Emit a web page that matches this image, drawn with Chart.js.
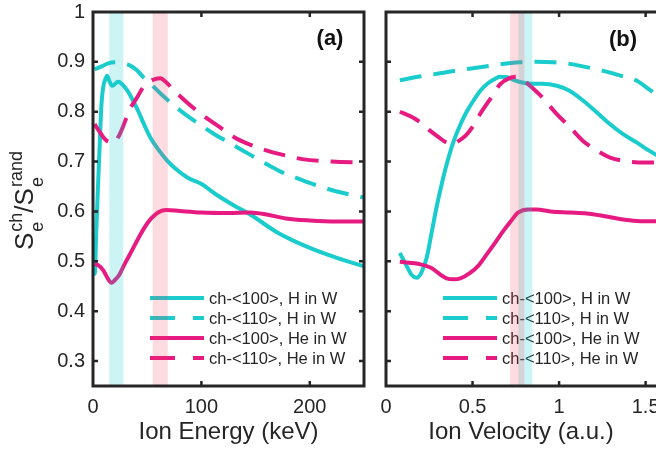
<!DOCTYPE html>
<html>
<head>
<meta charset="utf-8">
<script src="https://cdn.jsdelivr.net/npm/chart.js@4.4.1/dist/chart.umd.min.js"></script>
<style>
html, body { margin: 0; padding: 0; background: #fff; }
#wrap { position: relative; width: 656px; height: 451px; overflow: hidden; }
#wrap canvas { position: absolute; top: 0; }
#cA { left: 0; }
#cB { left: 375px; }
</style>
</head>
<body>
<div id="wrap">
  <canvas id="cA" width="375" height="451" style="width:375px;height:451px"></canvas>
  <canvas id="cB" width="281" height="451" style="width:281px;height:451px"></canvas>
</div>
<script>
//----------------------------//
//--|data: panel (a) energy|--//
//----------------------------//
const energyH100 = [0.8, 1.6, 3, 4.7, 6.3, 7.8, 9.5, 11.5, 13, 15, 17.5, 20, 23, 25.5, 29, 33, 37, 42, 47, 53, 60, 68, 76, 87, 100, 115, 130, 145, 170, 200, 225, 250];
const ratioH100a = [0.5, 0.475, 0.56, 0.655, 0.74, 0.815, 0.85, 0.866, 0.872, 0.862, 0.852, 0.855, 0.86, 0.858, 0.85, 0.838, 0.822, 0.8, 0.775, 0.748, 0.725, 0.703, 0.686, 0.668, 0.655, 0.632, 0.612, 0.594, 0.558, 0.527, 0.507, 0.49];

const energyH110 = [1.5, 8, 14, 20, 27, 34, 40, 47, 55, 63, 75, 88, 100, 112, 128, 144, 160, 172, 188, 203, 225, 250];
const ratioH110a = [0.885, 0.891, 0.897, 0.899, 0.897, 0.893, 0.884, 0.868, 0.852, 0.835, 0.812, 0.79, 0.772, 0.755, 0.735, 0.715, 0.695, 0.681, 0.667, 0.655, 0.64, 0.628];

const energyHe100 = [1.5, 5, 9.5, 13, 17, 20, 24, 27, 30, 36, 44, 51, 57, 63, 68, 80, 100, 125, 145, 160, 178, 200, 225, 250];
const ratioHe100a = [0.495, 0.492, 0.482, 0.468, 0.457, 0.462, 0.472, 0.485, 0.498, 0.522, 0.555, 0.579, 0.593, 0.601, 0.603, 0.601, 0.598, 0.597, 0.598, 0.594, 0.586, 0.582, 0.58, 0.58];

const energyHe110 = [1.5, 6, 11, 15, 19, 24, 28, 34, 40.5, 46, 52, 58, 62, 67, 75, 87, 100, 115, 131, 146, 162, 178, 193, 220, 250];
const ratioHe110a = [0.775, 0.76, 0.745, 0.739, 0.738, 0.752, 0.772, 0.805, 0.828, 0.848, 0.86, 0.866, 0.867, 0.86, 0.842, 0.818, 0.795, 0.772, 0.748, 0.733, 0.721, 0.712, 0.705, 0.7, 0.698];

//------------------------------//
//--|data: panel (b) velocity|--//
//------------------------------//
const velH100 = [0.08, 0.12, 0.15, 0.177, 0.205, 0.235, 0.265, 0.293, 0.322, 0.351, 0.39, 0.428, 0.466, 0.505, 0.545, 0.582, 0.62, 0.659, 0.7, 0.736, 0.78, 0.84, 0.9, 0.987, 1.06, 1.14, 1.22, 1.295, 1.37, 1.45, 1.52, 1.6];
const ratioH100b = [0.517, 0.49, 0.472, 0.467, 0.478, 0.507, 0.56, 0.61, 0.655, 0.695, 0.74, 0.773, 0.8, 0.822, 0.842, 0.855, 0.864, 0.87, 0.869, 0.864, 0.859, 0.856, 0.856, 0.852, 0.842, 0.822, 0.798, 0.775, 0.755, 0.738, 0.722, 0.706];

const velH110 = [0.08, 0.2, 0.312, 0.43, 0.543, 0.66, 0.775, 0.87, 0.967, 1.06, 1.15, 1.256, 1.35, 1.449, 1.52, 1.6];
const ratioH110b = [0.863, 0.871, 0.877, 0.884, 0.889, 0.895, 0.899, 0.9, 0.899, 0.896, 0.89, 0.882, 0.873, 0.862, 0.845, 0.825];

const velHe100 = [0.08, 0.2, 0.26, 0.312, 0.35, 0.389, 0.43, 0.486, 0.53, 0.582, 0.63, 0.678, 0.72, 0.765, 0.82, 0.87, 0.95, 1.064, 1.16, 1.256, 1.35, 1.45, 1.6];
const ratioHe100b = [0.499, 0.494, 0.487, 0.474, 0.466, 0.464, 0.466, 0.477, 0.49, 0.514, 0.537, 0.561, 0.58, 0.598, 0.604, 0.604, 0.6, 0.598, 0.596, 0.591, 0.585, 0.581, 0.58];

const velHe110 = [0.08, 0.158, 0.2, 0.254, 0.3, 0.35, 0.389, 0.418, 0.46, 0.495, 0.543, 0.611, 0.659, 0.71, 0.755, 0.8, 0.832, 0.9, 0.987, 1.06, 1.14, 1.22, 1.295, 1.4, 1.5, 1.6];
const ratioHe110b = [0.8, 0.788, 0.778, 0.762, 0.75, 0.738, 0.735, 0.741, 0.752, 0.767, 0.795, 0.83, 0.855, 0.867, 0.87, 0.862, 0.852, 0.83, 0.795, 0.77, 0.741, 0.722, 0.708, 0.7, 0.698, 0.698];

//------------------------//
//--|ticks and labels|--//
//------------------------//
const seriesLabels = ["ch-<100>, H in W", "ch-<110>, H in W", "ch-<100>, He in W", "ch-<110>, He in W"];
const yTicks = [0.3, 0.4, 0.5, 0.6, 0.7, 0.8, 0.9, 1];
const xTicksA = [0, 100, 200];
const xTicksB = [0, 0.5, 1, 1.5];
const bandA_H = [15, 28];
const bandA_He = [55, 69];
const bandB_He = [0.717, 0.8];
const bandB_H = [0.765, 0.845];

const CYAN = "rgb(26,204,204)";
const MAGENTA = "rgb(230,26,128)";
const CYAN_BAND = "rgba(26,204,204,0.22)";
const PINK_BAND = "rgba(245,60,90,0.18)";
const INK = "#262626";
const FONT = "'Liberation Sans', Arial, Helvetica, sans-serif";

const pts = (xs, ys) => xs.map((x, i) => ({ x: x, y: ys[i] }));

function drawYLabel(ctx) {
    ctx.save();
    ctx.translate(33, 250);
    ctx.rotate(-Math.PI / 2);
    ctx.fillStyle = INK;
    ctx.textAlign = "left";
    ctx.textBaseline = "alphabetic";
    const big = "26px " + FONT;
    const small = "18px " + FONT;
    let cx = 0;
    const part = (main, sub, sup) => {
        ctx.font = big;
        ctx.fillText(main, cx, 0);
        cx += ctx.measureText(main).width;
        if (sub || sup) {
            ctx.font = small;
            ctx.fillText(sub, cx + 1, 10);
            ctx.fillText(sup, cx + 1, -11);
            cx += 1 + Math.max(ctx.measureText(sub).width, ctx.measureText(sup).width);
        }
    };
    part("S", "e", "ch");
    part("/", "", "");
    part("S", "e", "rand");
    ctx.restore();
}

//--------------------------------------//
//--|legend, bands, frame, inner ticks|--//
//--------------------------------------//
const panelDecor = {
    id: "panelDecor",
    afterDatasetsDraw(chart, args, opts) {
        const ctx = chart.ctx;
        const a = chart.chartArea;
        const x = chart.scales.x;
        const y = chart.scales.y;
        ctx.save();

        // legend
        chart.data.datasets.forEach((ds, i) => {
            const ly = opts.legendY + i * 20;
            ctx.beginPath();
            ctx.setLineDash(ds.borderDash.length ? [25, 18] : []);
            ctx.lineWidth = 4;
            ctx.lineCap = "butt";
            ctx.strokeStyle = ds.borderColor;
            ctx.moveTo(opts.legendX, ly);
            ctx.lineTo(opts.legendX + 54, ly);
            ctx.stroke();
            ctx.setLineDash([]);
            ctx.fillStyle = INK;
            ctx.font = "16.5px " + FONT;
            ctx.textAlign = "left";
            ctx.textBaseline = "middle";
            ctx.fillText(ds.label, opts.legendX + 59, ly + 1);
        });

        // shaded bands (on top of the curves)
        opts.bands.forEach(b => {
            const x0 = x.getPixelForValue(b.range[0]);
            const x1 = x.getPixelForValue(b.range[1]);
            ctx.fillStyle = b.color;
            ctx.fillRect(x0, a.top, x1 - x0, a.bottom - a.top);
        });

        // frame
        ctx.strokeStyle = INK;
        ctx.lineWidth = 3;
        ctx.beginPath();
        if (opts.rightSide) {
            ctx.rect(a.left, a.top, a.right - a.left, a.bottom - a.top);
        } else {
            ctx.moveTo(a.right + 2, a.top);
            ctx.lineTo(a.left, a.top);
            ctx.lineTo(a.left, a.bottom);
            ctx.lineTo(a.right + 2, a.bottom);
        }
        ctx.stroke();

        // inward ticks
        ctx.lineWidth = 2.5;
        ctx.beginPath();
        x.ticks.forEach(t => {
            const px = x.getPixelForValue(t.value);
            if (px < a.left + 3 || px > a.right - 3) return;
            ctx.moveTo(px, a.bottom); ctx.lineTo(px, a.bottom - 5);
            ctx.moveTo(px, a.top); ctx.lineTo(px, a.top + 5);
        });
        y.ticks.forEach(t => {
            const py = y.getPixelForValue(t.value);
            if (py < a.top + 3 || py > a.bottom - 3) return;
            ctx.moveTo(a.left, py); ctx.lineTo(a.left + 5, py);
            if (opts.rightSide) { ctx.moveTo(a.right, py); ctx.lineTo(a.right - 5, py); }
        });
        ctx.stroke();

        // panel tag
        ctx.fillStyle = "#111";
        ctx.font = "bold 22px " + FONT;
        ctx.textAlign = "center";
        ctx.textBaseline = "middle";
        ctx.fillText(opts.tag, opts.tagX, opts.tagY);

        if (opts.yLabel) drawYLabel(ctx);
        ctx.restore();
    }
};

function buildPanel(canvasId, cfg) {
    const styles = [
        { color: CYAN, dashed: false },
        { color: CYAN, dashed: true },
        { color: MAGENTA, dashed: false },
        { color: MAGENTA, dashed: true }
    ];
    return new Chart(document.getElementById(canvasId), {
        type: "line",
        data: {
            datasets: cfg.series.map((s, i) => ({
                label: seriesLabels[i],
                data: pts(s[0], s[1]),
                borderColor: styles[i].color,
                borderWidth: 4,
                borderDash: styles[i].dashed ? [22, 12] : [],
                borderCapStyle: "butt",
                pointRadius: 0,
                cubicInterpolationMode: "monotone",
                fill: false,
                order: 4 - i
            }))
        },
        options: {
            responsive: false,
            animation: false,
            devicePixelRatio: 1,
            layout: { padding: cfg.padding },
            plugins: {
                legend: { display: false },
                tooltip: { enabled: false },
                panelDecor: cfg.decor
            },
            scales: {
                x: {
                    type: "linear",
                    min: cfg.xMin,
                    max: cfg.xMax,
                    grid: { display: false, drawTicks: false },
                    border: { display: false },
                    ticks: {
                        font: { size: 20, family: FONT },
                        color: INK,
                        padding: 9,
                        maxRotation: 0,
                        autoSkip: false,
                        callback: v => String(v)
                    },
                    afterBuildTicks: s => { s.ticks = cfg.xTicks.map(v => ({ value: v })); },
                    afterFit: s => { s.height = 65; s.paddingLeft = 0; s.paddingRight = 0; },
                    title: {
                        display: true,
                        text: cfg.xTitle,
                        font: { size: 24, family: FONT },
                        color: INK,
                        padding: { top: 0, bottom: 4 }
                    }
                },
                y: {
                    type: "linear",
                    min: 0.25,
                    max: 1,
                    grid: { display: false, drawTicks: false },
                    border: { display: false },
                    ticks: {
                        display: cfg.yLabels,
                        font: { size: 20, family: FONT },
                        color: INK,
                        padding: 8,
                        callback: v => (v === 1 ? "1" : v.toFixed(1))
                    },
                    afterBuildTicks: s => { s.ticks = yTicks.map(v => ({ value: v })); },
                    afterFit: s => { s.width = cfg.yWidth; s.paddingTop = 0; s.paddingBottom = 0; }
                }
            }
        },
        plugins: [panelDecor]
    });
}

buildPanel("cA", {
    series: [[energyH100, ratioH100a], [energyH110, ratioH110a], [energyHe100, ratioHe100a], [energyHe110, ratioHe110a]],
    xMin: 0, xMax: 250, xTicks: xTicksA, xTitle: "Ion Energy (keV)",
    yLabels: true, yWidth: 93,
    padding: { left: 0, right: 11, top: 12, bottom: 0 },
    decor: {
        legendX: 150, legendY: 298,
        bands: [{ range: bandA_H, color: CYAN_BAND }, { range: bandA_He, color: PINK_BAND }],
        rightSide: true, tag: "(a)", tagX: 330, tagY: 39, yLabel: true
    }
});

buildPanel("cB", {
    series: [[velH100, ratioH100b], [velH110, ratioH110b], [velHe100, ratioHe100b], [velHe110, ratioHe110b]],
    xMin: 0, xMax: 1.56, xTicks: xTicksB, xTitle: "Ion Velocity (a.u.)",
    yLabels: false, yWidth: 11,
    padding: { left: 0, right: 0, top: 12, bottom: 0 },
    decor: {
        legendX: 68, legendY: 298,
        bands: [{ range: bandB_H, color: CYAN_BAND }, { range: bandB_He, color: PINK_BAND }],
        rightSide: false, tag: "(b)", tagX: 248, tagY: 40, yLabel: false
    }
});
</script>
</body>
</html>
